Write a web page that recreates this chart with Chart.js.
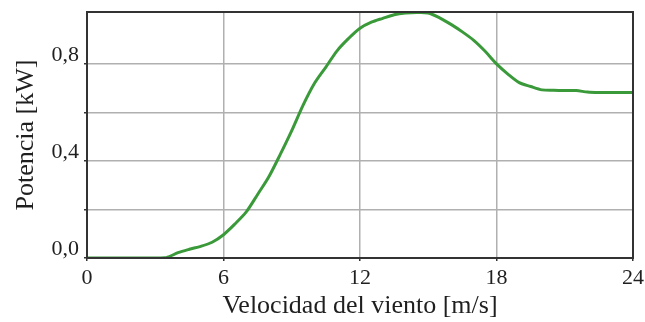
<!DOCTYPE html>
<html>
<head>
<meta charset="utf-8">
<script src="https://cdn.jsdelivr.net/npm/chart.js@4/dist/chart.umd.min.js"></script>
<style>
  html, body { margin: 0; padding: 0; background: #ffffff; }
  #wrap { width: 645px; height: 322px; }
</style>
</head>
<body>
<div id="wrap"><canvas id="c" width="645" height="322"></canvas></div>
<script>
// Wind speed [m/s] and turbine output power [kW] (power curve)
const windSpeed = [0, 0.5, 1, 1.5, 2, 2.5, 3, 3.5, 4, 4.5, 5, 5.5, 6, 6.5, 7, 7.5, 8, 8.5, 9, 9.5,
  10, 10.5, 11, 11.5, 12, 12.5, 13, 13.5, 14, 14.5, 15, 15.5, 16, 16.5, 17, 17.5, 18, 18.5, 19, 19.5,
  20, 20.5, 21, 21.5, 22, 22.5, 23, 23.5, 24];
const powerKW = [0, 0, 0, 0, 0, 0, 0, 0.002, 0.022, 0.036, 0.048, 0.065, 0.096, 0.14, 0.19, 0.262, 0.336, 0.428, 0.525, 0.63,
  0.72, 0.787, 0.855, 0.905, 0.947, 0.972, 0.988, 1.003, 1.01, 1.012, 1.01, 0.99, 0.963, 0.932, 0.897, 0.852, 0.80, 0.758, 0.723, 0.707,
  0.693, 0.691, 0.69, 0.69, 0.684, 0.682, 0.682, 0.682, 0.682];

const xTicks = [0, 6, 12, 18, 24];
const yTickLabels = { '0': '0,0', '0.4': '0,4', '0.8': '0,8' };

const xTitle = 'Velocidad del viento [m/s]';
const yTitle = 'Potencia [kW]';

const points = windSpeed.map((v, i) => ({ x: v, y: powerKW[i] }));

// closed frame around the plotting area
const framePlugin = {
  id: 'frame',
  afterDatasetsDraw(chart) {
    const { ctx, chartArea: a } = chart;
    ctx.save();
    ctx.strokeStyle = '#333333';
    ctx.lineWidth = 2;
    ctx.strokeRect(a.left, a.top, a.right - a.left, a.bottom - a.top);
    ctx.restore();
  }
};

const serif = '"Liberation Serif", "Times New Roman", serif';
const textColor = '#1f1f1f';

new Chart(document.getElementById('c'), {
  type: 'line',
  data: {
    datasets: [{
      data: points,
      borderColor: '#3a9a3a',
      borderWidth: 3,
      pointRadius: 0,
      tension: 0.3,
      fill: false
    }]
  },
  options: {
    responsive: false,
    animation: false,
    devicePixelRatio: 1,
    layout: { padding: { top: 12, right: 12, left: 0, bottom: 0 } },
    plugins: { legend: { display: false }, tooltip: { enabled: false } },
    scales: {
      x: {
        type: 'linear',
        min: 0,
        max: 24,
        afterBuildTicks(scale) { scale.ticks = xTicks.map(v => ({ value: v })); },
        afterFit(scale) {
          scale.height = 64;
          scale.paddingLeft = 0;
          scale.paddingRight = 0;
        },
        ticks: {
          color: textColor,
          font: { family: serif, size: 22 },
          padding: 4,
          maxRotation: 0,
          autoSkip: false,
          callback: v => String(v)
        },
        grid: { color: '#b0b0b0', lineWidth: 1.5, tickLength: 3, tickColor: '#333333' },
        border: { display: false },
        title: {
          display: true,
          text: xTitle,
          color: textColor,
          font: { family: serif, size: 26 },
          padding: { top: 0, bottom: 0 }
        }
      },
      y: {
        type: 'linear',
        min: 0,
        max: 1.014,
        afterBuildTicks(scale) {
          scale.ticks = [0, 0.2, 0.4, 0.6, 0.8].map(v => ({ value: v }));
        },
        afterFit(scale) {
          scale.width = 87;
          scale.paddingTop = 0;
          scale.paddingBottom = 0;
        },
        ticks: {
          color: textColor,
          font: { family: serif, size: 22 },
          padding: 5,
          labelOffset: -9,
          autoSkip: false,
          callback: v => yTickLabels[String(Math.round(v * 10) / 10)] || ''
        },
        grid: { color: '#b0b0b0', lineWidth: 1.5, tickLength: 3, tickColor: '#333333' },
        border: { display: false },
        title: {
          display: true,
          text: yTitle,
          color: textColor,
          font: { family: serif, size: 26 },
          padding: { top: 11, bottom: 0 }
        }
      }
    }
  },
  plugins: [framePlugin]
});
</script>
</body>
</html>
